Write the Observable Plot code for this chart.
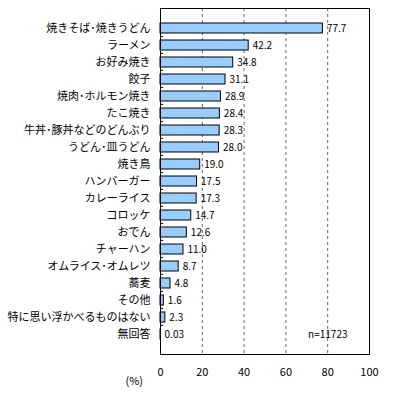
<!DOCTYPE html>
<html><head><meta charset="utf-8">
<script src="https://cdn.jsdelivr.net/npm/d3@7"></script>
<script src="https://cdn.jsdelivr.net/npm/@observablehq/plot@0.6"></script>
<style>body{margin:0;background:#fff}</style>
</head><body><div id="chart"></div>
<script>
const categories = ["焼きそば･焼きうどん","ラーメン","お好み焼き","餃子","焼肉･ホルモン焼き","たこ焼き","牛丼･豚丼などのどんぶり","うどん･皿うどん","焼き鳥","ハンバーガー","カレーライス","コロッケ","おでん","チャーハン","オムライス･オムレツ","蕎麦","その他","特に思い浮かべるものはない","無回答"];
const values = [77.7,42.2,34.8,31.1,28.9,28.4,28.3,28.0,19.0,17.5,17.3,14.7,12.6,11.0,8.7,4.8,1.6,2.3,0.03];
const valueLabels = ["77.7","42.2","34.8","31.1","28.9","28.4","28.3","28.0","19.0","17.5","17.3","14.7","12.6","11.0","8.7","4.8","1.6","2.3","0.03"];
const xTicks = [0,20,40,60,80,100];
const gridTicks = [20,40,60,80];
const note = "n=11723";
const unit = "(%)";

const data = categories.map((c,i)=>({cat:c, v:values[i], lab:valueLabels[i]}));
const font = "'Noto Sans CJK JP', sans-serif";

const chart = Plot.plot({
  width: 407, height: 397,
  marginLeft: 160, marginRight: 38, marginTop: 8, marginBottom: 43,
  style: {fontFamily: font, fontSize: "10px", color: "#000", background: "#fff"},
  x: {domain: [0,100], label: null},
  y: {domain: categories, padding: 0.4, label: null},
  marks: [
    Plot.ruleX(gridTicks, {stroke: "#666", strokeDasharray: "3,3", strokeWidth: 1}),
    Plot.barX(data, {y: "cat", x: "v", fill: "#99CCFF", stroke: "#000", strokeWidth: 1}),
    Plot.text(data, {y: "cat", x: "v", text: "lab", textAnchor: "start", dx: 4, fontSize: 10}),
    Plot.ruleY(categories.slice(1), {y: d=>d, x1: 0, x2: 1.5, stroke: "#000", dy: -9.1}),
    Plot.axisX({ticks: xTicks, tickSize: 0, tickPadding: 14, fontSize: 11, tickFormat: d=>d, label: null}),
    Plot.axisY({tickSize: 0, tickPadding: 10, fontSize: 11, label: null}),
    Plot.text([note], {frameAnchor: "bottom-right", dx: -22, dy: -17, textAnchor: "end", fontSize: 10}),
    Plot.text([unit], {frameAnchor: "bottom-left", dx: -35, dy: 30, textAnchor: "start", fontSize: 11}),
    Plot.frame({stroke: "#000", strokeWidth: 1})
  ]
});
document.getElementById("chart").appendChild(chart);
</script>
</body></html>
